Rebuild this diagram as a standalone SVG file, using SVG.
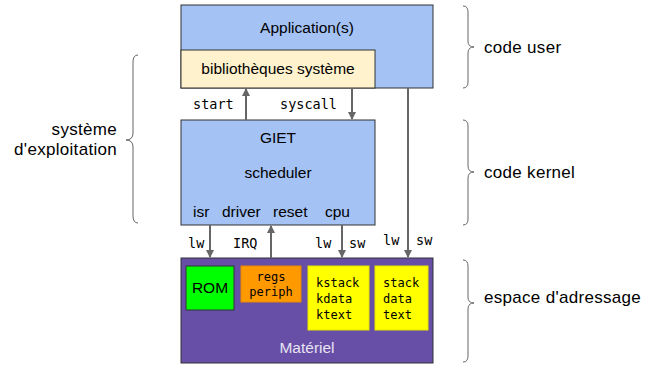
<svg xmlns="http://www.w3.org/2000/svg" width="646" height="365" viewBox="0 0 646 365">
<defs>
<marker id="ah" markerWidth="8" markerHeight="8" refX="7" refY="4" orient="auto" markerUnits="userSpaceOnUse">
<path d="M0,0 L8,4 L0,8 z" fill="#666"/>
</marker>
<style>
.box{stroke:#333;stroke-width:1}
.t{font-family:"Liberation Sans",Arial,sans-serif;font-size:15.5px;fill:#000}
.s{font-family:"Liberation Sans",Arial,sans-serif;font-size:17px;letter-spacing:0.3px;fill:#000}
.m{font-family:"DejaVu Sans Mono","Liberation Mono",monospace;font-size:13.5px;fill:#000}
.mm{font-family:"DejaVu Sans Mono","Liberation Mono",monospace;font-size:12px;fill:#000}
.c{stroke:#666;stroke-width:2;fill:none;marker-end:url(#ah)}
.br{stroke:#666;stroke-width:1;fill:none}
</style>
</defs>
<rect width="646" height="365" fill="#fff"/>
<g id="app">
<rect class="box" x="181" y="5" width="252" height="83" fill="#a4c2f4"/>
<text class="t" x="307" y="33" text-anchor="middle">Application(s)</text>
</g>
<g id="biblio">
<rect class="box" x="181" y="50" width="194" height="38" fill="#fff2cc"/>
<text class="t" x="278" y="74" text-anchor="middle">bibliothèques système</text>
</g>
<g id="giet">
<rect class="box" x="181" y="120" width="194" height="105" fill="#a4c2f4"/>
<text class="t" x="278" y="143" text-anchor="middle">GIET</text>
<text class="t" x="278" y="178" text-anchor="middle">scheduler</text>
<text class="t" x="193" y="217">isr</text>
<text class="t" x="222" y="217">driver</text>
<text class="t" x="273" y="217">reset</text>
<text class="t" x="325" y="217">cpu</text>
</g>
<g id="materiel">
<rect class="box" x="181" y="258" width="252" height="105" fill="#674ea7"/>
<text class="t" x="307" y="353" text-anchor="middle" style="fill:#e8e4f2">Matériel</text>
</g>
<g id="rom">
<rect class="box" x="186" y="266" width="48" height="44" fill="#00ff00"/>
<text class="t" x="210" y="293" text-anchor="middle">ROM</text>
</g>
<g id="regs">
<rect x="241" y="266" width="60" height="36" fill="#ff9900" stroke="#e68a00"/>
<text class="mm" x="271" y="281" text-anchor="middle">regs</text>
<text class="mm" x="271" y="296" text-anchor="middle">periph</text>
</g>
<g id="kmem">
<rect x="308" y="266" width="61" height="64" fill="#ffff00" stroke="#e6e600"/>
<text class="mm" x="316" y="287">kstack</text>
<text class="mm" x="316" y="303">kdata</text>
<text class="mm" x="316" y="319">ktext</text>
</g>
<g id="umem">
<rect x="375" y="266" width="53" height="64" fill="#ffff00" stroke="#e6e600"/>
<text class="mm" x="383" y="287">stack</text>
<text class="mm" x="383" y="303">data</text>
<text class="mm" x="383" y="319">text</text>
</g>
<g id="connectors">
<line class="c" x1="246" y1="120" x2="246" y2="89"/>
<line class="c" x1="352" y1="88" x2="352" y2="119"/>
<line class="c" x1="408" y1="88" x2="408" y2="257"/>
<line class="c" x1="210" y1="225" x2="210" y2="257"/>
<line class="c" x1="271" y1="258" x2="271" y2="226"/>
<line class="c" x1="342" y1="225" x2="342" y2="257"/>
<text class="m" x="193" y="109">start</text>
<text class="m" x="280" y="109">syscall</text>
<text class="m" x="188" y="248">lw</text>
<text class="m" x="233" y="248">IRQ</text>
<text class="m" x="315" y="248">lw</text>
<text class="m" x="349" y="248">sw</text>
<text class="m" x="383" y="245">lw</text>
<text class="m" x="416" y="245">sw</text>
</g>
<g id="braces">
<path class="br" d="M138,55 Q133,55 133,62 L133,133 Q133,140 126,140 Q133,140 133,147 L133,216 Q133,223 138,223"/>
<path class="br" d="M463,6 Q468,6 468,12 L468,41 Q468,47 474,47 Q468,47 468,53 L468,82 Q468,88 463,88"/>
<path class="br" d="M463,120 Q468,120 468,126 L468,166 Q468,172 474,172 Q468,172 468,178 L468,219 Q468,225 463,225"/>
<path class="br" d="M463,260 Q468,260 468,266 L468,297 Q468,303 474,303 Q468,303 468,309 L468,356 Q468,362 463,362"/>
<text class="s" x="117" y="135" text-anchor="end">système</text>
<text class="s" x="117" y="155" text-anchor="end">d'exploitation</text>
<text class="s" x="484" y="53">code user</text>
<text class="s" x="484" y="178">code kernel</text>
<text class="s" x="484" y="303">espace d'adressage</text>
</g>
</svg>
